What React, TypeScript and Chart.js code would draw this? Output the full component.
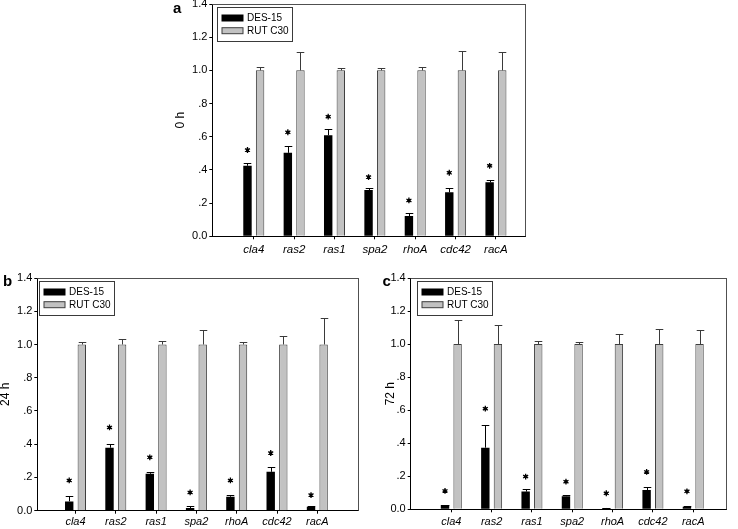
import React, { useEffect, useRef } from "react";
import { Chart, registerables } from "chart.js";

Chart.register(...registerables);

// ---------- data ----------
const genes = ["cla4", "ras2", "ras1", "spa2", "rhoA", "cdc42", "racA"];
const seriesLabels = ["DES-15", "RUT C30"];
const yTickValues = [0, 0.2, 0.4, 0.6, 0.8, 1.0, 1.2, 1.4];
const yTickLabels = ["0.0", ".2", ".4", ".6", ".8", "1.0", "1.2", "1.4"];

// panel a : 0 h
const des0h = [0.425, 0.503, 0.609, 0.279, 0.122, 0.265, 0.325];
const des0hErr = [0.018, 0.04, 0.04, 0.01, 0.017, 0.024, 0.012];
const rut0h = [1, 1, 1, 1, 1, 1, 1];
const rut0hErr = [0.022, 0.112, 0.016, 0.012, 0.022, 0.118, 0.108];
const star0h = [0.52, 0.627, 0.721, 0.357, 0.216, 0.383, 0.425];

// panel b : 24 h
const des24h = [0.056, 0.379, 0.222, 0.016, 0.084, 0.234, 0.024];
const des24hErr = [0.03, 0.02, 0.01, 0.01, 0.012, 0.026, 0.002];
const rut24h = [1, 1, 1, 1, 1, 1, 1];
const rut24hErr = [0.016, 0.034, 0.018, 0.086, 0.016, 0.054, 0.162];
const star24h = [0.182, 0.501, 0.321, 0.11, 0.182, 0.347, 0.094];

// panel c : 72 h
const des72h = [0.026, 0.373, 0.107, 0.079, 0.008, 0.117, 0.016];
const des72hErr = [0.003, 0.135, 0.014, 0.006, 0.001, 0.016, 0.001];
const rut72h = [1, 1, 1, 1, 1, 1, 1];
const rut72hErr = [0.145, 0.115, 0.016, 0.01, 0.062, 0.09, 0.087];
const star72h = [0.111, 0.609, 0.198, 0.167, 0.097, 0.226, 0.109];

// ---------- layout ----------
const FONT = "'Liberation Sans', Arial, Helvetica, sans-serif";

type Panel = {
  letter: string;
  title: string;
  des: number[];
  desErr: number[];
  rut: number[];
  rutErr: number[];
  star: number[];
  box: { x: number; y: number; w: number; h: number };
  area: { l: number; t: number; r: number; b: number };
  xMin: number;
  xMax: number;
  titleCenter: number;
  letterX: number;
  letterY: number;
  legendDx: number;
  legendDy: number;
  xLabelPad: number;
  xFont: number;
};

const panels: Panel[] = [
  {
    letter: "a",
    title: "0 h",
    des: des0h,
    desErr: des0hErr,
    rut: rut0h,
    rutErr: rut0hErr,
    star: star0h,
    box: { x: 170, y: 0, w: 365, h: 262 },
    area: { l: 212.3, t: 4, r: 525, b: 236.3 },
    xMin: -0.028,
    xMax: 7.72,
    titleCenter: 180.7,
    letterX: 173,
    letterY: 12.5,
    legendDx: 4.4,
    legendDy: 3.3,
    xLabelPad: 4,
    xFont: 11.5,
  },
  {
    letter: "b",
    title: "24 h",
    des: des24h,
    desErr: des24hErr,
    rut: rut24h,
    rutErr: rut24hErr,
    star: star24h,
    box: { x: 0, y: 262, w: 366, h: 267 },
    area: { l: 37.3, t: 278, r: 358.3, b: 510.7 },
    xMin: 0.052,
    xMax: 8.017,
    titleCenter: 5.5,
    letterX: 3,
    letterY: 285.5,
    legendDx: 1.2,
    legendDy: 2.7,
    xLabelPad: 1.5,
    xFont: 11,
  },
  {
    letter: "c",
    title: "72 h",
    des: des72h,
    desErr: des72hErr,
    rut: rut72h,
    rutErr: rut72hErr,
    star: star72h,
    box: { x: 370, y: 262, w: 368, h: 267 },
    area: { l: 410.7, t: 278, r: 726.3, b: 509.3 },
    xMin: -0.007,
    xMax: 7.82,
    titleCenter: 390.5,
    letterX: 382.5,
    letterY: 285.5,
    legendDx: 6.6,
    legendDy: 2.7,
    xLabelPad: 2.9,
    xFont: 11,
  },
];

function drawStar(ctx: CanvasRenderingContext2D, x: number, y: number) {
  ctx.save();
  ctx.strokeStyle = "#000";
  ctx.lineWidth = 1.3;
  ctx.beginPath();
  const r = 2.9;
  for (let k = 0; k < 3; k++) {
    const a = Math.PI / 2 + (k * Math.PI) / 3;
    ctx.moveTo(x + r * Math.cos(a), y + r * Math.sin(a));
    ctx.lineTo(x - r * Math.cos(a), y - r * Math.sin(a));
  }
  ctx.stroke();
  ctx.beginPath();
  ctx.arc(x, y, 1.7, 0, Math.PI * 2);
  ctx.fillStyle = "#000";
  ctx.fill();
  ctx.restore();
}

const GRAY_FILL = "#c2c2c2";
const GRAY_EDGE = "#3e3e3e";

function makePlugin(p: Panel) {
  return {
    id: "panel-extras-" + p.letter,
    afterDatasetsDraw(chart: any) {
      const ctx: CanvasRenderingContext2D = chart.ctx;
      const ys = chart.scales.y;
      const sets = [
        { vals: p.des, errs: p.desErr, color: "#000" },
        { vals: p.rut, errs: p.rutErr, color: "#3a3a3a" },
      ];
      sets.forEach((s, di) => {
        const meta = chart.getDatasetMeta(di);
        ctx.save();
        ctx.strokeStyle = s.color;
        ctx.lineWidth = 1;
        meta.data.forEach((el: any, j: number) => {
          const x = Math.round(el.x) + 0.5;
          const y0 = ys.getPixelForValue(s.vals[j]);
          const y1 = Math.round(ys.getPixelForValue(s.vals[j] + s.errs[j])) + 0.5;
          const hw = el.width * 0.45;
          ctx.beginPath();
          ctx.moveTo(x, y0);
          ctx.lineTo(x, y1);
          ctx.moveTo(x - hw, y1);
          ctx.lineTo(x + hw, y1);
          ctx.stroke();
        });
        ctx.restore();
      });
      // significance markers
      const meta0 = chart.getDatasetMeta(0);
      meta0.data.forEach((el: any, j: number) => {
        drawStar(ctx, el.x, ys.getPixelForValue(p.star[j]));
      });
    },
    afterDraw(chart: any) {
      const ctx: CanvasRenderingContext2D = chart.ctx;
      const { left, top, right, bottom } = chart.chartArea;
      // frame top & right
      ctx.save();
      ctx.strokeStyle = "#505050";
      ctx.lineWidth = 1;
      ctx.beginPath();
      ctx.moveTo(left, Math.round(top) + 0.5);
      ctx.lineTo(right, Math.round(top) + 0.5);
      ctx.moveTo(Math.round(right) + 0.5, top);
      ctx.lineTo(Math.round(right) + 0.5, bottom);
      ctx.stroke();
      ctx.restore();

      // legend box
      const bx = Math.round(left + p.legendDx) + 0.5;
      const by = Math.round(top + p.legendDy) + 0.5;
      const bw = 75;
      const bh = 34;
      ctx.save();
      ctx.fillStyle = "#fff";
      ctx.fillRect(bx, by, bw, bh);
      ctx.strokeStyle = "#3a3a3a";
      ctx.lineWidth = 1;
      ctx.strokeRect(bx, by, bw, bh);
      const rows = [10.5, 23.2];
      chart.data.datasets.forEach((ds: any, i: number) => {
        const cy = by + rows[i];
        const sx = bx + 4.5;
        ctx.fillStyle = ds.backgroundColor;
        ctx.fillRect(sx, cy - 3, 21, 6);
        ctx.strokeStyle = i === 0 ? "#000" : GRAY_EDGE;
        ctx.strokeRect(sx, cy - 3, 21, 6);
        ctx.fillStyle = "#000";
        ctx.font = `10px ${FONT}`;
        ctx.textBaseline = "middle";
        ctx.textAlign = "left";
        ctx.fillText(ds.label, sx + 25, cy + 0.5);
      });
      // panel letter
      ctx.fillStyle = "#000";
      ctx.font = `bold 15px ${FONT}`;
      ctx.textBaseline = "alphabetic";
      ctx.textAlign = "left";
      ctx.fillText(p.letter, p.letterX - p.box.x, p.letterY - p.box.y);
      ctx.restore();
    },
  };
}

function PanelChart({ p }: { p: Panel }) {
  const ref = useRef<HTMLCanvasElement>(null);
  useEffect(() => {
    const canvas = ref.current;
    if (!canvas) return;
    const toPts = (vals: number[]) => vals.map((v, i) => ({ x: i + 1, y: v }));
    const titlePad = p.titleCenter - p.box.x - 7.2;
    const chart = new Chart(canvas, {
      type: "bar",
      data: {
        datasets: [
          {
            label: seriesLabels[0],
            data: toPts(p.des) as any,
            backgroundColor: "#000",
            borderWidth: 0,
            categoryPercentage: 0.625,
            barPercentage: 0.667,
          },
          {
            label: seriesLabels[1],
            data: toPts(p.rut) as any,
            backgroundColor: GRAY_FILL,
            borderColor: GRAY_EDGE,
            borderWidth: 1,
            categoryPercentage: 0.625,
            barPercentage: 0.667,
          },
        ],
      },
      options: {
        animation: false,
        responsive: false,
        maintainAspectRatio: false,
        devicePixelRatio: 1,
        layout: {
          padding: {
            left: 0,
            top: p.area.t - p.box.y,
            right: p.box.x + p.box.w - p.area.r,
            bottom: 0,
          },
        },
        plugins: {
          legend: { display: false },
          tooltip: { enabled: false },
          title: { display: false },
        },
        scales: {
          x: {
            type: "linear",
            offset: false,
            min: p.xMin,
            max: p.xMax,
            afterBuildTicks: (s: any) => {
              s.ticks = genes.map((_, i) => ({ value: i + 1 }));
            },
            afterFit: (s: any) => {
              s.height = p.box.y + p.box.h - p.area.b;
              s.paddingLeft = 0;
              s.paddingRight = 0;
            },
            ticks: {
              autoSkip: false,
              maxRotation: 0,
              padding: p.xLabelPad,
              color: "#000",
              font: { family: FONT, size: p.xFont, style: "italic" },
              callback: (v: any) => {
                const idx = Math.round(Number(v)) - 1;
                return genes[idx] ?? "";
              },
            },
            grid: {
              display: true,
              offset: false,
              drawOnChartArea: false,
              drawTicks: true,
              tickLength: 3,
              color: "#000",
            },
            border: { display: true, color: "#000", width: 1 },
          },
          y: {
            type: "linear",
            min: 0,
            max: 1.4,
            afterBuildTicks: (s: any) => {
              s.ticks = yTickValues.map((v) => ({ value: v }));
            },
            afterFit: (s: any) => {
              s.width = p.area.l - p.box.x;
              s.paddingTop = 0;
              s.paddingBottom = 0;
            },
            ticks: {
              autoSkip: false,
              padding: 2,
              color: "#000",
              font: { family: FONT, size: 11 },
              callback: (_v: any, i: number) => yTickLabels[i],
            },
            grid: {
              display: true,
              drawOnChartArea: false,
              drawTicks: true,
              tickLength: 3,
              color: "#000",
            },
            border: { display: true, color: "#000", width: 1 },
            title: {
              display: true,
              text: p.title,
              color: "#000",
              font: { family: FONT, size: 12, lineHeight: 1.2 },
              padding: { top: titlePad, bottom: 0 },
            },
          },
        },
      },
      plugins: [makePlugin(p) as any],
    });
    return () => chart.destroy();
  }, [p]);
  return (
    <canvas
      ref={ref}
      width={p.box.w}
      height={p.box.h}
      style={{
        position: "absolute",
        left: p.box.x,
        top: p.box.y,
        width: p.box.w,
        height: p.box.h,
      }}
    />
  );
}

export default function App() {
  return (
    <div
      style={{
        position: "fixed",
        left: 0,
        top: 0,
        width: 738,
        height: 529,
        background: "#fff",
        overflow: "hidden",
      }}
    >
      {panels.map((p) => (
        <PanelChart key={p.letter} p={p} />
      ))}
    </div>
  );
}
